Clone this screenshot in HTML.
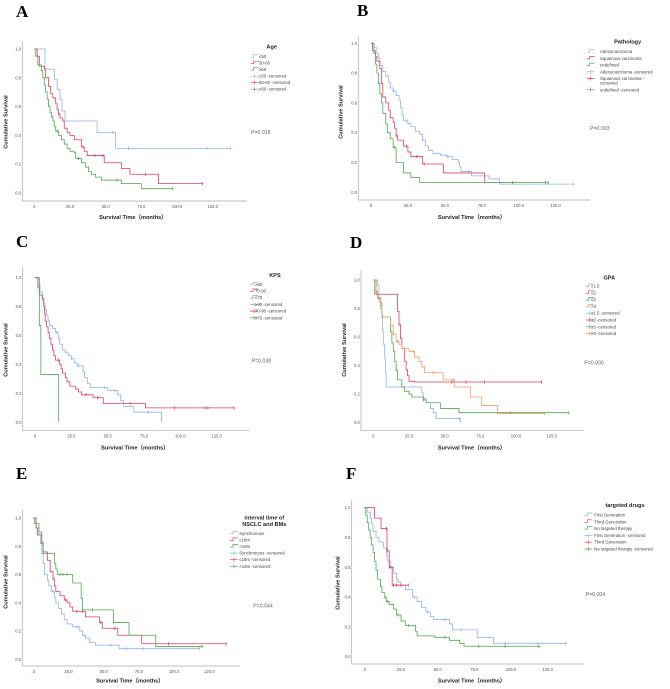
<!DOCTYPE html>
<html><head><meta charset="utf-8">
<style>
html,body{margin:0;padding:0;background:#fff;}
svg{display:block;font-family:"Liberation Sans",sans-serif;}
.tk{font-size:4.2px;fill:#555;}
.lg{font-size:4.3px;fill:#444;}
.lt{font-size:5.6px;font-weight:bold;fill:#222;}
.at{font-size:5.6px;font-weight:bold;fill:#222;}
.pv{font-size:5.2px;fill:#666;}
.pl{font-size:17px;font-weight:bold;font-family:"Liberation Serif",serif;fill:#000;}
</style></head>
<body>
<svg id="fig" width="670" height="689" viewBox="0 0 670 689" xmlns="http://www.w3.org/2000/svg"></svg>
<script>
// ---------- DATA ----------
const xTicks=[0,25,50,75,100,125];
const xTickLabels=["0","25.0","50.0","75.0","100.0","125.0"];
const xTickLabelsEF=[".0","25.0","50.0","75.0","100.0","125.0"];
const yTicks=[0,0.2,0.4,0.6,0.8,1.0];
const yTickLabels=["0.0","0.2","0.4","0.6","0.8","1.0"];

// A - Age
const ageLegend=["≤50","50-60","≥60","≤50 -censored","50-60 -censored","≥60 -censored"];
const ageG1Time=[7.5,14,16,18,19.4,21.5,44,57];
const ageG1Surv=[0.86,0.79,0.72,0.65,0.57,0.50,0.42,0.31];
const ageG1Cens=[55,66,121,137.6];
const ageG2Time=[2,3.5,7,8,10,11.5,13,15,16,17,18,20,21,23,25,28,33,35,37,49,61,67,87];
const ageG2Surv=[0.95,0.88,0.86,0.80,0.74,0.69,0.66,0.62,0.58,0.55,0.52,0.50,0.45,0.42,0.40,0.37,0.32,0.29,0.26,0.21,0.17,0.13,0.065];
const ageG2Cens=[17,34,42.5,48,78,118];
const ageG3Time=[1,2.5,5,6,7,8,9,10,11,12,13,14,15,17,19,21,23,25,28,29,33,36,38,40,43,47,61,75];
const ageG3Surv=[0.95,0.89,0.85,0.80,0.75,0.70,0.65,0.60,0.56,0.53,0.50,0.46,0.43,0.40,0.37,0.34,0.31,0.29,0.28,0.24,0.21,0.18,0.15,0.13,0.11,0.09,0.065,0.03];
const ageG3Cens=[16,31,58,97];
const ageEnd=[137.6,118,97];

// B - Pathology
const pathLegend=["Adenocarcinoma","Squamous carcinoma","undefined","Adenocarcinoma -censored","Squamous carcinoma -|censored","undefined -censored"];
const pathG1Time=[2,4,5,6,8,10,12,13,15,17,19,20,21,22,25,27,30,33,35,37,39,42,47,51,55,59,60,61,68,80,87];
const pathG1Surv=[0.97,0.93,0.90,0.85,0.81,0.78,0.74,0.70,0.68,0.65,0.62,0.57,0.52,0.48,0.46,0.44,0.41,0.39,0.35,0.31,0.28,0.26,0.25,0.24,0.22,0.20,0.17,0.14,0.11,0.09,0.055];
const pathG1Cens=[15,24,35,52,66,77,137];
const pathG2Time=[1,3,4,6,7,8,10,12,13,15,16,17,18,22,25,27,35,49,77];
const pathG2Surv=[0.95,0.91,0.88,0.83,0.73,0.64,0.60,0.55,0.50,0.47,0.43,0.38,0.35,0.31,0.27,0.24,0.19,0.13,0.065];
const pathG2Cens=[17,24,31,36,96];
const pathG3Time=[2,3,4,5,6,7,8,10,11,13,15,17,22,27,33];
const pathG3Surv=[0.93,0.86,0.80,0.73,0.66,0.60,0.53,0.46,0.40,0.36,0.30,0.20,0.13,0.10,0.065];
const pathG3Cens=[16,118,120];
const pathEnd=[137,96,120];

// C - KPS
const kpsLegend=["≥90","70-90","≤70","≥90 -censored","70-90 -censored","≤70 -censored"];
const kpsG1Time=[2,3.5,5,6,7,8,9,10,12,14,16,17,19,21,23,25,27,29,33,34,36,38,50,57,59,61,68,87];
const kpsG1Surv=[0.95,0.90,0.86,0.82,0.78,0.74,0.70,0.67,0.65,0.62,0.58,0.54,0.50,0.48,0.46,0.44,0.41,0.39,0.35,0.31,0.27,0.24,0.22,0.19,0.15,0.11,0.07,0.0];
const kpsG1Cens=[15,25,30,48,55,78];
const kpsG2Time=[2,3,5,6,6.5,7,8,9,10,11,12,13,14,17,18,19,21,22,24,28,30,32,40,47,76];
const kpsG2Surv=[0.93,0.88,0.85,0.80,0.75,0.70,0.66,0.62,0.58,0.54,0.50,0.46,0.43,0.40,0.37,0.34,0.31,0.28,0.25,0.23,0.21,0.19,0.17,0.13,0.10];
const kpsG2Cens=[16,35,43,66,96,117,119,137];
const kpsG3Time=[3,4,16.3];
const kpsG3Surv=[0.67,0.33,0.0];
const kpsG3Cens=[];
const kpsEnd=[87,137,16.3];

// D - GPA
const gpaLegend=["≤1.5","≤2","≤3",">3","≤1.5 -censored","≤2 -censored","≤3 -censored",">3 -censored"];
const gpaG1Time=[3,4,5,6,6.5,7,8,8.5,9,34,35,37,40,42,44,61];
const gpaG1Surv=[0.96,0.85,0.80,0.75,0.65,0.55,0.45,0.35,0.25,0.21,0.17,0.14,0.10,0.07,0.03,0.0];
const gpaG1Cens=[60.5];
const gpaG2Time=[2,17,18,19,20,22,23,24,25,29];
const gpaG2Surv=[0.90,0.78,0.69,0.59,0.52,0.43,0.37,0.33,0.29,0.285];
const gpaG2Cens=[18,55,65,78,118];
const gpaG3Time=[1,3,5,6,12,13,14,15,16,17,20,22,25,27,35,37,47,60];
const gpaG3Surv=[0.90,0.87,0.84,0.74,0.64,0.56,0.50,0.43,0.37,0.30,0.25,0.22,0.20,0.18,0.16,0.14,0.10,0.07];
const gpaG3Cens=[16,35,96,137];
const gpaG4Time=[2,3,5,6,12,14,16,18,20,25,29,32,34,36,49,57,68,76,87];
const gpaG4Surv=[0.92,0.88,0.82,0.74,0.68,0.62,0.57,0.55,0.52,0.50,0.46,0.43,0.39,0.35,0.30,0.25,0.18,0.12,0.065];
const gpaG4Cens=[3,14,17,22,28,42,56,120];
const gpaEnd=[61,118,137,120];

// E - interval
const intLegend=["Synchronous","≤18m",">18m","Synchronous -censored","≤18m -censored",">18m -censored"];
const intG1Time=[2,4,5,6,7,8,10,11,13,15,16,18,20,22,24,28,33,35,37,40,44,61];
const intG1Surv=[0.93,0.88,0.82,0.75,0.68,0.60,0.56,0.52,0.48,0.44,0.40,0.36,0.32,0.28,0.25,0.23,0.20,0.17,0.15,0.12,0.10,0.075];
const intG1Cens=[14,31,36,55,66,78,118];
const intG2Time=[2,3,6,7,10,12,14,15,16,19,22,24,26,28,37,47,49,60,77];
const intG2Surv=[0.93,0.88,0.82,0.76,0.70,0.62,0.57,0.52,0.48,0.45,0.42,0.40,0.37,0.34,0.30,0.26,0.22,0.17,0.11];
const intG2Cens=[14,23,31,35,48,58,96,137];
const intG3Time=[1,4,6,7,15,16,17,28,34,35,57,68,87];
const intG3Surv=[0.96,0.90,0.83,0.75,0.68,0.64,0.60,0.54,0.43,0.35,0.26,0.17,0.09];
const intG3Cens=[19,21,24,42,120];
const intEnd=[118,137,120];

// F - targeted drugs
const drugLegend=["First Generation","Third Generation","No targeted therapy","First Generation -censored","Third Generation","No targeted therapy -censored"];
const drugG1Time=[2,4,5,6,8,10,13,15,16,18,20,22,23,25,28,33,36,39,42,45,47,58,60,77,88];
const drugG1Surv=[0.97,0.93,0.89,0.84,0.80,0.77,0.73,0.68,0.64,0.60,0.56,0.52,0.50,0.48,0.45,0.40,0.37,0.33,0.30,0.27,0.25,0.22,0.18,0.13,0.09];
const drugG1Cens=[19,25,34,43,55,66,96,118,137];
const drugG2Time=[7,11.4,15.5,17,19];
const drugG2Surv=[0.93,0.86,0.71,0.60,0.48];
const drugG2Cens=[15,15.8,17.5,20,22,25,30];
const drugG3Time=[1,2,3,4,5,6,7,8,9,11,12,14,15,17,20,22,25,28,35,36,48,58,65,68];
const drugG3Surv=[0.95,0.90,0.85,0.80,0.75,0.70,0.64,0.58,0.52,0.47,0.43,0.40,0.37,0.35,0.32,0.28,0.24,0.21,0.17,0.14,0.13,0.11,0.09,0.07];
const drugG3Cens=[14,16,23,30,55,78,96,119];
const drugEnd=[138,30,120];

// ---------- DRAWING ----------
const NS="http://www.w3.org/2000/svg";
const svg=document.getElementById('fig');
const BLUE="#8db4ec",RED="#e23c66",GREEN="#4fa84f",ORANGE="#f39a64";
function mk(tag,attrs,parent){const e=document.createElementNS(NS,tag);for(const k in attrs)e.setAttribute(k,attrs[k]);(parent||svg).appendChild(e);return e;}
function txt(s,x,y,cls,anchor,parent){const t=mk('text',{x:x,y:y,class:cls,'text-anchor':anchor||'start'},parent);t.textContent=s;return t;}

function survAt(times,survs,t){let s=1;for(let i=0;i<times.length;i++){if(times[i]<=t)s=survs[i];}return s;}

function drawPanel(p){
  const g=mk('g',{});
  
  
  const X=t=>p.x0+t*p.kx;
  const Y=s=>p.y0-s*(p.y0-p.y1);
  const L=txt(p.letter,p.lx,p.ly,'pl','start',g);
  
  
  // axes
  const ax=mk('path',{d:`M${p.al},${p.at} V${p.ab} H${p.ar}`,fill:'none',stroke:'#aaa','stroke-width':0.7},g);
  
  
  yTicks.forEach((v,i)=>{const t=txt(yTickLabels[i],p.al-1.2,Y(v)+1.5,'tk','end',g);
    
    });
  const xl=p.ef?xTickLabelsEF:xTickLabels;
  xTicks.forEach((v,i)=>{const t=txt(xl[i],X(v),p.ab+7,'tk','middle',g);
    
    });
  const xt=txt('Survival Time（months）',p.xlx,p.xly,'at','middle',g);
  
  
  const yt=txt('Cumulative Survival',0,0,'at','middle',g);
  yt.setAttribute('transform',`translate(${p.ylx},${p.yly}) rotate(-90)`);
  
  
  // series
  p.series.forEach((s,si)=>{
    let d=`M${X(0)},${Y(1)}`;
    for(let i=0;i<s.t.length;i++){d+=` H${X(s.t[i])} V${Y(s.s[i])}`;}
    d+=` H${X(s.end)}`;
    const path=mk('path',{d:d,fill:'none',stroke:s.c,'stroke-width':0.8},g);
    
    
    s.cens.forEach(ct=>{
      const cx=X(ct),cy=Y(survAt(s.t,s.s,ct));
      const m=mk('path',{d:`M${cx},${cy-1.6} V${cy+1.6}`,stroke:s.c,'stroke-width':0.8},g);
      
      
    });
  });
  // legend
  p.ltitle.forEach((lt,i)=>{const t=txt(lt,p.ltx,p.lty+i*6.6,'lt','middle',g);
    
    });
  let y=p.ley;const n=p.series.length;
  p.legend.forEach((lab,i)=>{
    const c=p.series[i%n].c;
    const lg=mk('g',{},g);
    
    
    if(i<n){mk('path',{d:`M${p.lsx},${y+0.5} H${p.lsx+3} V${y-2} H${p.lsx+8}`,fill:'none',stroke:c,'stroke-width':0.7},lg);}
    else{mk('path',{d:`M${p.lsx},${y} H${p.lsx+8} M${p.lsx+4},${y-2} V${y+2}`,fill:'none',stroke:c,'stroke-width':0.7},lg);}
    const parts=lab.split('|');
    parts.forEach((pt,j)=>txt(pt,p.ltx0,y+1.5+j*4.6,'lg','start',lg));
    y+=p.lsp+(parts.length-1)*4.6;
  });
  const pv=txt(p.pval,p.px,p.py,'pv','start',g);
  
  
}

const panels=[
 {letter:'A',lx:16,ly:17,x0:34.3,kx:1.427,y1:49,y0:193,al:22.3,ar:246.7,at:41,ab:201,xlx:133,xly:219,ylx:7.5,yly:122,
  ltitle:['Age'],ltx:271.7,lty:48.5,ley:56.7,lsp:6.5,lsx:250.7,ltx0:259,pval:'P=0.018',px:251,py:134,legend:ageLegend,
  series:[{t:ageG1Time,s:ageG1Surv,cens:ageG1Cens,end:ageEnd[0],c:BLUE},{t:ageG2Time,s:ageG2Surv,cens:ageG2Cens,end:ageEnd[1],c:RED},{t:ageG3Time,s:ageG3Surv,cens:ageG3Cens,end:ageEnd[2],c:GREEN}]},
 {letter:'B',lx:357,ly:16,x0:371,kx:1.477,y1:43.3,y0:192.3,al:358.3,ar:590,at:36.7,ab:200,xlx:471.7,xly:219,ylx:342.5,yly:112,
  ltitle:['Pathology'],ltx:627.7,lty:43.5,ley:51.7,lsp:6.7,lsx:586.7,ltx0:600,pval:'P=0.003',px:590,py:130,legend:pathLegend,
  series:[{t:pathG1Time,s:pathG1Surv,cens:pathG1Cens,end:pathEnd[0],c:BLUE},{t:pathG2Time,s:pathG2Surv,cens:pathG2Cens,end:pathEnd[1],c:RED},{t:pathG3Time,s:pathG3Surv,cens:pathG3Cens,end:pathEnd[2],c:GREEN}]},
 {letter:'C',lx:16,ly:247,x0:35,kx:1.453,y1:277.7,y0:422.3,al:22.7,ar:249.3,at:266.7,ab:430.7,xlx:135,xly:449.5,ylx:7.5,yly:350,
  ltitle:['KPS'],ltx:275,lty:277,ley:284.3,lsp:6.7,lsx:250,ltx0:255,pval:'P=0.038',px:251.7,py:362.5,legend:kpsLegend,
  series:[{t:kpsG1Time,s:kpsG1Surv,cens:kpsG1Cens,end:kpsEnd[0],c:BLUE},{t:kpsG2Time,s:kpsG2Surv,cens:kpsG2Cens,end:kpsEnd[1],c:RED},{t:kpsG3Time,s:kpsG3Surv,cens:kpsG3Cens,end:kpsEnd[2],c:GREEN}]},
 {letter:'D',lx:350,ly:248,x0:373.3,kx:1.427,y1:280,y0:422.7,al:361,ar:584.3,at:270,ab:430.7,xlx:471.7,xly:449.5,ylx:346,yly:350,
  ltitle:['GPA'],ltx:609.3,lty:279.3,ley:286,lsp:6.8,lsx:585.7,ltx0:591,pval:'P=0.000',px:584.3,py:364.5,legend:gpaLegend,
  series:[{t:gpaG1Time,s:gpaG1Surv,cens:gpaG1Cens,end:gpaEnd[0],c:BLUE},{t:gpaG2Time,s:gpaG2Surv,cens:gpaG2Cens,end:gpaEnd[1],c:RED},{t:gpaG3Time,s:gpaG3Surv,cens:gpaG3Cens,end:gpaEnd[2],c:GREEN},{t:gpaG4Time,s:gpaG4Surv,cens:gpaG4Cens,end:gpaEnd[3],c:ORANGE}]},
 {letter:'E',lx:16,ly:479,x0:33.3,kx:1.408,y1:518,y0:659.3,al:22.3,ar:240,at:510,ab:666,xlx:130,xly:682.5,ylx:7.5,yly:582,ef:true,
  ltitle:['interval time of','NSCLC and BMs'],ltx:264.3,lty:519.5,ley:533.3,lsp:6.6,lsx:230,ltx0:239.3,pval:'P=0.044',px:253.3,py:607.5,legend:intLegend,
  series:[{t:intG1Time,s:intG1Surv,cens:intG1Cens,end:intEnd[0],c:BLUE},{t:intG2Time,s:intG2Surv,cens:intG2Cens,end:intEnd[1],c:RED},{t:intG3Time,s:intG3Surv,cens:intG3Cens,end:intEnd[2],c:GREEN}]},
 {letter:'F',lx:346,ly:479,x0:364.3,kx:1.467,y1:507.7,y0:656.7,al:351.7,ar:583.3,at:500,ab:664,xlx:471.7,xly:682.5,ylx:339.5,yly:583,ef:true,
  ltitle:['targeted drugs'],ltx:625,lty:507,ley:515,lsp:6.8,lsx:584.3,ltx0:594.3,pval:'P=0.004',px:585.7,py:596,legend:drugLegend,
  series:[{t:drugG1Time,s:drugG1Surv,cens:drugG1Cens,end:drugEnd[0],c:BLUE},{t:drugG2Time,s:drugG2Surv,cens:drugG2Cens,end:drugEnd[1],c:RED},{t:drugG3Time,s:drugG3Surv,cens:drugG3Cens,end:drugEnd[2],c:GREEN}]}
];
panels.forEach(drawPanel);
</script>
</body></html>
